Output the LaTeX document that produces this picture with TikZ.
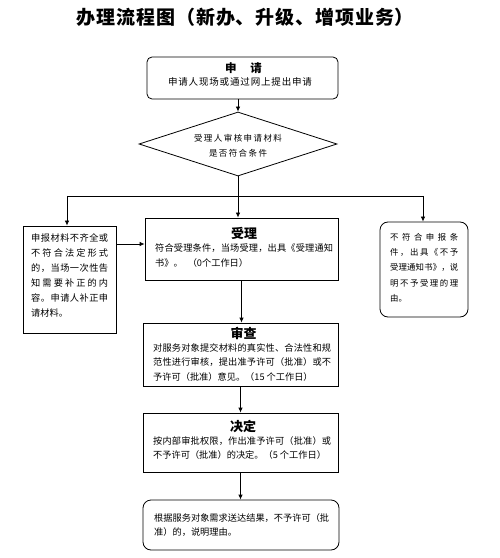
\documentclass[tikz,border=0pt]{standalone}
\usepackage{fontspec}
\newfontfamily\cjk{Noto Sans CJK SC}
\usetikzlibrary{arrows.meta,shapes.geometric}
\def\spx#1{\ifx#1\relax\else#1\hfil\expandafter\spx\fi}
\newcommand\spread[2]{\hbox to #1{\spx#2\relax\unskip}}
\newcommand\fsz[2]{\fontsize{#1bp}{#2bp}\selectfont}
\begin{document}
\begin{tikzpicture}[x=1bp,y=-1bp,
  line/.style={draw=black,line width=0.8bp},
  arr/.style={line,-{Latex[length=5bp,width=4.5bp]}},
  sqbox/.style={draw=black,line width=0.8bp,rectangle,inner sep=0},
  dia/.style={draw=black,line width=0.8bp,diamond,inner sep=0},
  ttlfont/.style={inner sep=0,font=\cjk\bfseries\fsz{13}{14}},
  body/.style={inner sep=0,align=left,anchor=west,font=\cjk\fsz{9.2}{#1}},
]
\useasboundingbox (0,0) rectangle (500,558);
% title
\node[inner sep=0,font=\cjk\bfseries\fsz{19}{20}] (ttl) at (245.5,17.5) {\spread{337bp}{办理流程图（新办、升级、增项业务）}};
% boxes
\node[sqbox,rounded corners=5bp,minimum width=191bp,minimum height=42bp] (req) at (242.5,78) {};
\node[dia,minimum width=198bp,minimum height=64bp] (chk) at (238,144) {};
\node[sqbox,minimum width=193bp,minimum height=62bp] (acc) at (241.5,249) {};
\node[sqbox,minimum width=93bp,minimum height=107bp] (lft) at (69.5,279.5) {};
\node[sqbox,rounded corners=8bp,minimum width=88bp,minimum height=95bp] (rgt) at (424,269.5) {};
\node[sqbox,minimum width=195bp,minimum height=63bp] (rev) at (240.5,354.5) {};
\node[sqbox,minimum width=195bp,minimum height=59bp] (dec) at (240.5,442.5) {};
\node[sqbox,rounded corners=8bp,minimum width=196bp,minimum height=50bp] (fin) at (241,525) {};
% texts
\node[inner sep=0,font=\cjk\bfseries\fsz{11.5}{12}] (reqT) at (243.5,68) {申\hspace{14bp}请};
\node[inner sep=0,font=\cjk\fsz{9.5}{10}] (reqB) at (240,82) {\spread{144bp}{申请人现场或通过网上提出申请}};
\node[inner sep=0,font=\cjk\fsz{8.5}{9}] (chkA) at (238,138.5) {\spread{88bp}{受理人审核申请材料}};
\node[inner sep=0,font=\cjk\fsz{8.5}{9}] (chkB) at (238,153) {\spread{58bp}{是否符合条件}};
\node[ttlfont] (accT) at (244,233) {受理};
\node[body=15] (accB) at (155,255.5) {\spread{178bp}{符合受理条件，当场受理，出具《受理通知}\\书》。\hspace{5bp}（0个工作日）};
\node[body=15] (lftB) at (31,275.5) {\spread{77bp}{申报材料不齐全或}\\\spread{77bp}{不符合法定形式}\\\spread{77bp}{的，当场一次性告}\\\spread{77bp}{知需要补正的内}\\\spread{77bp}{容。申请人补正申}\\请材料。};
\node[inner sep=0,align=left,anchor=west,font=\cjk\fsz{8.4}{15.3}] (rgtB) at (390,267.5) {\spread{68bp}{不符合申报条}\\\spread{68bp}{件，出具《不予}\\\spread{68bp}{受理通知书》，说}\\\spread{68bp}{明不予受理的理}\\由。};
\node[ttlfont] (revT) at (243.5,333) {审查};
\node[body=14.5] (revB) at (153,362.5) {\spread{178bp}{对服务对象提交材料的真实性、合法性和规}\\\spread{178bp}{范性进行审核，提出准予许可（批准）或不}\\予许可（批准）意见。（15 个工作日）};
\node[ttlfont] (decT) at (243,426) {决定};
\node[body=14] (decB) at (153,448) {\spread{178bp}{按内部审批权限，作出准予许可（批准）或}\\不予许可（批准）的决定。（5 个工作日）};
\node[body=14] (finB) at (154,525) {\spread{175bp}{根据服务对象需求送达结果，不予许可（批}\\准）的，说明理由。};
% connectors
\coordinate (sp) at (238,196);
\coordinate (spL) at (67,196);
\coordinate (spR) at (423,196);
\coordinate (la) at (116,244);
\draw[arr] (chk.north |- req.south) -- (chk.north);
\draw[line] (chk.south) -- (sp);
\draw[line] (spL) -- (spR);
\draw[arr] (spL) -- (spL |- lft.north);
\draw[arr] (spR) -- (spR |- rgt.north);
\draw[arr] (sp) -- (sp |- acc.north);
\draw[arr] (la) -- (la -| acc.west);
\draw[arr] (acc.south) -- (acc.south |- rev.north);
\draw[arr] (rev.south) -- (rev.south |- dec.north);
\draw[arr] (dec.south) -- (dec.south |- fin.north);
\end{tikzpicture}
\end{document}
